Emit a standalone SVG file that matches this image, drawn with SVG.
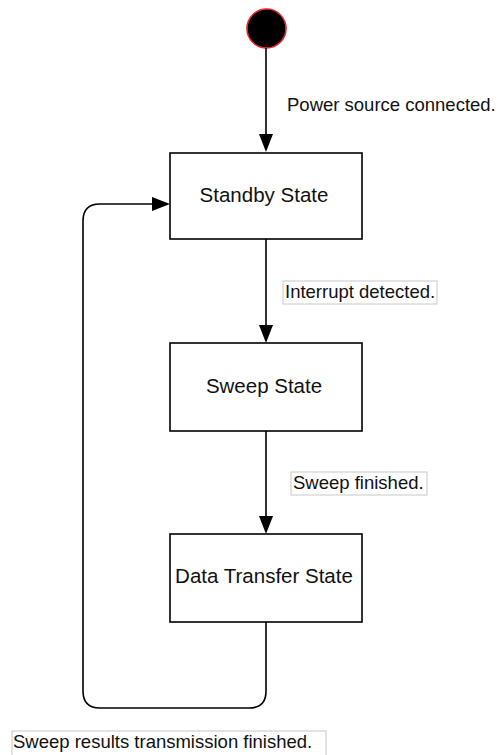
<svg xmlns="http://www.w3.org/2000/svg" width="501" height="755" viewBox="0 0 501 755">
  <style>
    .state rect { fill: #ffffff; stroke: #000000; stroke-width: 1.6; }
    .state text { font-family: "Liberation Sans", Arial, sans-serif; font-size: 20.5px; fill: #111111; text-anchor: middle; }
    .edge { fill: none; stroke: #000000; stroke-width: 1.6; }
    .head { fill: #000000; stroke: none; }
    .label text { font-family: "Liberation Sans", Arial, sans-serif; font-size: 18.5px; fill: #111111; }
    .label rect { fill: #ffffff; stroke: #c8c8c8; stroke-width: 1; }
  </style>
  <rect width="501" height="755" fill="#ffffff"/>

  <!-- initial pseudo-state -->
  <g id="start">
    <circle cx="266.5" cy="28.5" r="19.5" fill="#000000" stroke="#e8262a" stroke-width="1.6"/>
  </g>

  <!-- transitions -->
  <g id="connectors">
    <line class="edge" x1="266" y1="48" x2="266" y2="138"/>
    <path class="head" d="M259,134 L273,134 L266,152 Z"/>

    <line class="edge" x1="266" y1="239" x2="266" y2="329"/>
    <path class="head" d="M259,325 L273,325 L266,343 Z"/>

    <line class="edge" x1="266" y1="431" x2="266" y2="520"/>
    <path class="head" d="M259,516 L273,516 L266,534 Z"/>

    <path class="edge" d="M266,622 L266,691 Q266,708 249,708 L100,708 Q83,708 83,691 L83,221 Q83,204 100,204 L156,204"/>
    <path class="head" d="M152,197 L152,211 L170,204 Z"/>
  </g>

  <!-- states -->
  <g id="standby" class="state">
    <rect x="170" y="153" width="192" height="86"/>
    <text x="264" y="202">Standby State</text>
  </g>
  <g id="sweep" class="state">
    <rect x="170" y="343" width="192" height="88"/>
    <text x="264" y="393">Sweep State</text>
  </g>
  <g id="data-transfer" class="state">
    <rect x="170" y="534" width="192" height="88"/>
    <text x="264" y="583">Data Transfer State</text>
  </g>

  <!-- transition labels -->
  <g id="label-power" class="label">
    <text x="287" y="111">Power source connected.</text>
  </g>
  <g id="label-interrupt" class="label">
    <rect x="283" y="281" width="154" height="23"/>
    <text x="285" y="298">Interrupt detected.</text>
  </g>
  <g id="label-sweep-finished" class="label">
    <rect x="291" y="472" width="136" height="23"/>
    <text x="293" y="489">Sweep finished.</text>
  </g>
  <g id="label-transmission" class="label">
    <rect x="12" y="731" width="314" height="26"/>
    <text x="13" y="748">Sweep results transmission finished.</text>
  </g>
</svg>
